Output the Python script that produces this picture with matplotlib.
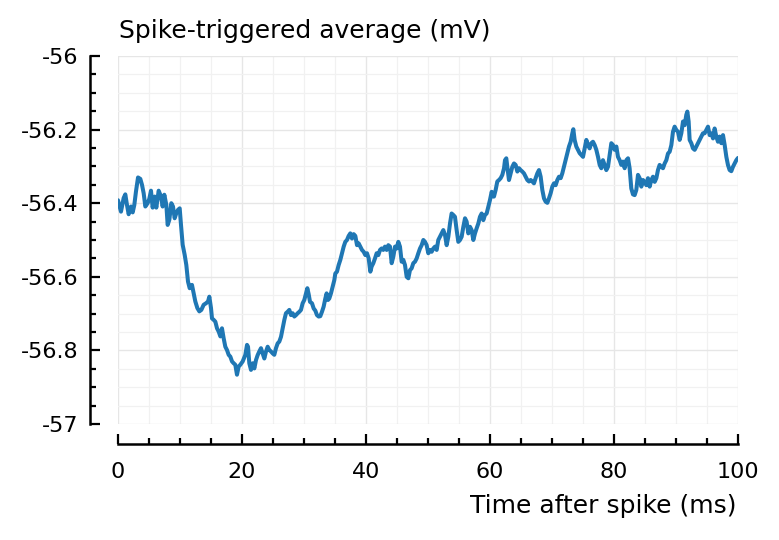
import matplotlib
matplotlib.use("Agg")
import matplotlib.pyplot as plt
from matplotlib.ticker import MultipleLocator

# spike-triggered average
t_ms = [
    0.00, 0.48, 0.91, 1.18, 1.45, 1.72, 2.10, 2.37, 2.63, 2.90,
    3.23, 3.60, 3.87, 4.14, 4.41, 4.78, 5.05, 5.32, 5.59, 5.91,
    6.18, 6.56, 6.94, 7.20, 7.47, 7.80, 8.01, 8.28, 8.60, 8.87,
    9.14, 9.41, 9.68, 9.95, 10.16, 10.43, 10.75, 11.02, 11.29, 11.56,
    11.93, 12.20, 12.47, 12.80, 13.12, 13.44, 13.82, 14.19, 14.52, 14.73,
    15.00, 15.16, 15.43, 15.70, 15.97, 16.24, 16.51, 16.77, 17.04, 17.31,
    17.58, 17.85, 18.12, 18.39, 18.66, 18.92, 19.19, 19.46, 19.73, 20.11,
    20.54, 20.81, 20.97, 21.18, 21.45, 21.72, 21.99, 22.26, 22.52, 22.79,
    23.06, 23.33, 23.60, 23.87, 24.14, 24.41, 24.68, 24.94, 25.21, 25.48,
    25.75, 26.02, 26.29, 26.56, 26.83, 27.09, 27.36, 27.63, 27.90, 28.17,
    28.44, 28.71, 28.98, 29.25, 29.51, 29.78, 30.05, 30.32, 30.54, 30.75,
    30.97, 31.29, 31.56, 31.83, 32.09, 32.36, 32.63, 32.90, 33.17, 33.44,
    33.65, 33.87, 34.08, 34.35, 34.62, 34.89, 35.05, 35.32, 35.59, 35.86,
    36.13, 36.40, 36.66, 36.93, 37.20, 37.47, 37.74, 38.01, 38.28, 38.55,
    38.81, 39.08, 39.35, 39.62, 39.89, 40.16, 40.43, 40.70, 40.91, 41.18,
    41.45, 41.72, 41.99, 42.26, 42.52, 42.79, 43.06, 43.33, 43.60, 43.87,
    44.14, 44.41, 44.68, 44.94, 45.21, 45.48, 45.75, 46.02, 46.29, 46.56,
    46.83, 47.09, 47.36, 47.63, 47.90, 48.17, 48.44, 48.71, 48.98, 49.25,
    49.51, 49.78, 50.05, 50.32, 50.59, 50.86, 51.13, 51.40, 51.66, 51.93,
    52.20, 52.47, 52.74, 53.01, 53.28, 53.55, 53.81, 54.08, 54.35, 54.62,
    54.89, 55.16, 55.43, 55.70, 55.97, 56.23, 56.50, 56.77, 57.04, 57.31,
    57.58, 57.85, 58.12, 58.38, 58.65, 58.92, 59.19, 59.46, 59.73, 60.00,
    60.27, 60.54, 60.64, 60.91, 61.18, 61.45, 61.72, 61.99, 62.26, 62.42,
    62.63, 62.79, 63.06, 63.33, 63.60, 63.87, 64.14, 64.41, 64.68, 64.94,
    65.21, 65.48, 65.75, 66.02, 66.29, 66.56, 66.83, 67.09, 67.36, 67.63,
    67.90, 68.17, 68.44, 68.71, 68.98, 69.25, 69.51, 69.78, 70.05, 70.32,
    70.59, 70.86, 71.13, 71.40, 71.66, 71.93, 72.20, 72.47, 72.74, 73.01,
    73.28, 73.44, 73.65, 73.92, 74.19, 74.46, 74.73, 75.00, 75.27, 75.54,
    75.81, 76.07, 76.34, 76.61, 76.88, 77.15, 77.42, 77.69, 77.95, 78.22,
    78.49, 78.76, 79.03, 79.30, 79.57, 79.84, 80.11, 80.38, 80.64, 80.91,
    81.18, 81.45, 81.72, 81.99, 82.26, 82.52, 82.79, 83.06, 83.33, 83.60,
    83.87, 84.14, 84.41, 84.68, 84.94, 85.21, 85.48, 85.75, 86.02, 86.29,
    86.56, 86.83, 87.09, 87.36, 87.63, 87.90, 88.17, 88.44, 88.71, 88.98,
    89.25, 89.51, 89.78, 90.05, 90.32, 90.59, 90.86, 91.13, 91.40, 91.66,
    91.83, 92.04, 92.20, 92.47, 92.74, 93.01, 93.28, 93.55, 93.81, 94.08,
    94.35, 94.62, 94.89, 95.16, 95.43, 95.70, 95.97, 96.23, 96.50, 96.77,
    97.04, 97.31, 97.58, 97.85, 98.12, 98.38, 98.65, 98.92, 99.19, 99.46,
    99.73, 100.00,
]
sta_mv = [
    -56.392, -56.423, -56.386, -56.376, -56.405, -56.430, -56.409, -56.425, -56.405, -56.368,
    -56.330, -56.334, -56.350, -56.373, -56.409, -56.400, -56.388, -56.366, -56.412, -56.382,
    -56.412, -56.366, -56.382, -56.409, -56.377, -56.405, -56.459, -56.445, -56.400, -56.409,
    -56.441, -56.427, -56.418, -56.414, -56.459, -56.513, -56.540, -56.568, -56.613, -56.631,
    -56.622, -56.645, -56.667, -56.685, -56.694, -56.690, -56.676, -56.672, -56.667, -56.654,
    -56.685, -56.713, -56.717, -56.722, -56.740, -56.749, -56.762, -56.740, -56.767, -56.790,
    -56.799, -56.812, -56.817, -56.830, -56.835, -56.839, -56.866, -56.844, -56.839, -56.830,
    -56.812, -56.785, -56.790, -56.835, -56.853, -56.835, -56.849, -56.826, -56.813, -56.803,
    -56.794, -56.808, -56.822, -56.803, -56.790, -56.799, -56.803, -56.808, -56.812, -56.794,
    -56.781, -56.776, -56.763, -56.740, -56.717, -56.699, -56.695, -56.690, -56.704, -56.699,
    -56.708, -56.704, -56.699, -56.695, -56.690, -56.672, -56.663, -56.645, -56.631, -56.647,
    -56.668, -56.672, -56.686, -56.692, -56.704, -56.708, -56.707, -56.695, -56.681, -56.659,
    -56.645, -56.663, -56.659, -56.645, -56.627, -56.609, -56.591, -56.586, -56.568, -56.554,
    -56.536, -56.518, -56.505, -56.500, -56.489, -56.482, -56.496, -56.484, -56.489, -56.514,
    -56.509, -56.518, -56.527, -56.532, -56.541, -56.536, -56.550, -56.586, -56.572, -56.563,
    -56.550, -56.536, -56.541, -56.527, -56.523, -56.527, -56.518, -56.527, -56.514, -56.518,
    -56.563, -56.545, -56.518, -56.523, -56.505, -56.518, -56.559, -56.554, -56.568, -56.600,
    -56.604, -56.582, -56.577, -56.563, -56.559, -56.550, -56.536, -56.523, -56.514, -56.500,
    -56.505, -56.514, -56.536, -56.527, -56.532, -56.523, -56.518, -56.527, -56.500, -56.491,
    -56.482, -56.473, -56.486, -56.514, -56.491, -56.455, -56.428, -56.432, -56.437, -56.473,
    -56.505, -56.500, -56.491, -56.464, -56.441, -56.450, -56.482, -56.464, -56.473, -56.500,
    -56.482, -56.468, -56.455, -56.437, -56.428, -56.446, -56.432, -56.428, -56.409, -56.391,
    -56.369, -56.382, -56.382, -56.364, -56.341, -56.337, -56.332, -56.323, -56.305, -56.283,
    -56.278, -56.301, -56.337, -56.319, -56.301, -56.292, -56.296, -56.314, -56.305, -56.310,
    -56.314, -56.319, -56.328, -56.337, -56.341, -56.337, -56.341, -56.346, -56.332, -56.319,
    -56.310, -56.328, -56.364, -56.387, -56.396, -56.399, -56.387, -56.373, -56.355, -56.346,
    -56.351, -56.337, -56.328, -56.332, -56.319, -56.301, -56.283, -56.264, -56.246, -56.233,
    -56.210, -56.199, -56.228, -56.246, -56.255, -56.264, -56.269, -56.274, -56.251, -56.228,
    -56.242, -56.251, -56.237, -56.233, -56.242, -56.255, -56.274, -56.296, -56.305, -56.283,
    -56.296, -56.310, -56.301, -56.269, -56.237, -56.242, -56.255, -56.246, -56.274, -56.283,
    -56.296, -56.287, -56.305, -56.283, -56.278, -56.305, -56.360, -56.376, -56.378, -56.364,
    -56.323, -56.332, -56.355, -56.337, -56.342, -56.351, -56.332, -56.355, -56.337, -56.328,
    -56.342, -56.332, -56.310, -56.296, -56.301, -56.305, -56.292, -56.283, -56.265, -56.260,
    -56.242, -56.206, -56.192, -56.201, -56.206, -56.228, -56.210, -56.178, -56.188, -56.160,
    -56.151, -56.178, -56.228, -56.237, -56.251, -56.255, -56.246, -56.237, -56.228, -56.219,
    -56.210, -56.210, -56.201, -56.192, -56.215, -56.210, -56.224, -56.197, -56.219, -56.233,
    -56.219, -56.237, -56.215, -56.242, -56.274, -56.296, -56.310, -56.313, -56.301, -56.292,
    -56.283, -56.277,
]

x_ticks = [0, 20, 40, 60, 80, 100]
y_ticks = [-57, -56.8, -56.6, -56.4, -56.2, -56]
y_tick_labels = ["-57", "-56.8", "-56.6", "-56.4", "-56.2", "-56"]


def plotSTA():
    plt.rcParams['font.family'] = 'DejaVu Sans'
    plt.rcParams['font.size'] = 16

    fig = plt.figure(figsize=(7.79, 5.40), dpi=100)
    ax = fig.add_axes([118 / 779, 116 / 540, 620 / 779, 368 / 540])

    ax.plot(t_ms, sta_mv, color='#1f77b4', lw=2.9,
            solid_joinstyle='round', solid_capstyle='round', zorder=3)

    ax.set_xlim(0, 100)
    ax.set_ylim(-57, -56)
    ax.set_xticks(x_ticks)
    ax.set_xticklabels([str(v) for v in x_ticks])
    ax.set_yticks(y_ticks)
    ax.set_yticklabels(y_tick_labels)
    ax.xaxis.set_minor_locator(MultipleLocator(5))
    ax.yaxis.set_minor_locator(MultipleLocator(0.05))

    ax.grid(which='major', color='#e6e6e6', lw=1.0)
    ax.grid(which='minor', color='#f1f1f1', lw=0.9)
    ax.set_axisbelow(True)

    for s in ['top', 'right']:
        ax.spines[s].set_visible(False)
    ax.spines['left'].set_position(('outward', 20.2))
    ax.spines['bottom'].set_position(('outward', 14.4))
    for s in ['left', 'bottom']:
        ax.spines[s].set_linewidth(1.8)

    ax.tick_params(which='major', direction='in', length=7.2, width=1.6)
    ax.tick_params(which='minor', direction='in', length=4.3, width=1.6)
    ax.tick_params(axis='y', which='major', pad=8.6)
    ax.tick_params(axis='x', which='major', pad=13)

    fig.text(119 / 779, 1 - 38.3 / 540, "Spike-triggered average (mV)",
             ha='left', va='baseline', fontsize=18)
    fig.text(737 / 779, 1 - 512.7 / 540, "Time after spike (ms)",
             ha='right', va='baseline', fontsize=18)

    fig.savefig("out.png", dpi=100)


if __name__ == '__main__':
    plotSTA()
